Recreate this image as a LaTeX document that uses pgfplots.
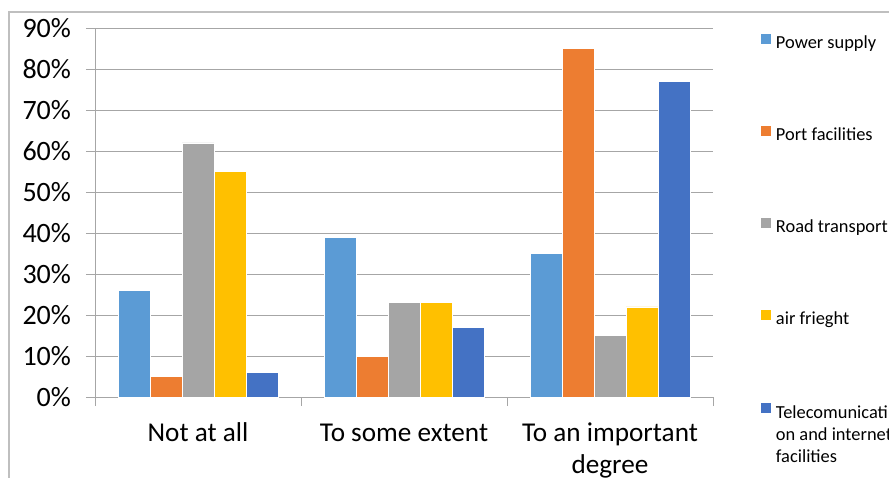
\documentclass[border=0pt]{standalone}
\usepackage{fontspec}
\setmainfont{Carlito}
\usepackage{pgfplots}
\pgfplotsset{compat=1.18}
\definecolor{c1}{HTML}{5B9BD5}
\definecolor{c2}{HTML}{ED7D31}
\definecolor{c3}{HTML}{A5A5A5}
\definecolor{c4}{HTML}{FFC000}
\definecolor{c5}{HTML}{4472C4}
\definecolor{gridc}{HTML}{A6A6A6}
\definecolor{framec}{HTML}{BFBFBF}
\begin{document}
\begin{tikzpicture}[x=1pt,y=1pt]
\clip (0,0) rectangle (444.5,238.5);
\draw[framec, line width=0.6pt] (4.5,-1) -- (4.5,232.5) -- (450,232.5);
\begin{axis}[
  at={(47.5pt,40pt)}, anchor=south west,
  scale only axis, width=309pt, height=184.5pt,
  xmin=0, xmax=3, ymin=0, ymax=90,
  axis lines*=left, axis line style={-, draw=gridc, line width=0.5pt},
  ytick={0,10,...,90},
  yticklabels={0\%,10\%,20\%,30\%,40\%,50\%,60\%,70\%,80\%,90\%},
  yticklabel style={font=\fontsize{14}{16.8}\selectfont, xshift=-4pt},
  ymajorgrids, grid style={gridc, line width=0.5pt},
  xtick={0,1,2,3}, xticklabels={},
  extra x ticks={0.5,1.5,2.5},
  extra x tick labels={\strut Not at all,\strut To some extent,{\strut To an important\\degree}},
  extra x tick style={major tick length=0pt, grid=none,
    tick label style={align=center, font=\fontsize{13.6}{15.6}\selectfont, yshift=-8pt}},
  tick align=outside, major tick length=4.5pt,
  tick style={gridc, line width=0.5pt},
  tick label style={text=black},
  ybar=0pt, bar width=16pt,
  legend style={at={(axis description cs:1.076,0.99)}, anchor=north west,
    draw=none, fill=none, font=\fontsize{9.2}{11}\selectfont,
    row sep=34pt, inner sep=0pt},
  legend cell align=left,
  legend image code/.code={\fill[#1] (0pt,-0.3pt) rectangle (5.5pt,5.2pt);},
]
\addplot[fill=c1, draw=white, line width=0.3pt] coordinates {(0.5,26) (1.5,39) (2.5,35)};
\addlegendentry{Power supply}
\addplot[fill=c2, draw=white, line width=0.3pt] coordinates {(0.5,5) (1.5,10) (2.5,85)};
\addlegendentry{Port facilities}
\addplot[fill=c3, draw=white, line width=0.3pt] coordinates {(0.5,62) (1.5,23) (2.5,15)};
\addlegendentry{Road transport}
\addplot[fill=c4, draw=white, line width=0.3pt] coordinates {(0.5,55) (1.5,23) (2.5,22)};
\addlegendentry{air frieght}
\addplot[fill=c5, draw=white, line width=0.3pt] coordinates {(0.5,6) (1.5,17) (2.5,77)};
\addlegendentry{\begin{tabular}[t]{@{}l@{}}Telecomunicati\\on and internet\\facilities\end{tabular}}
\end{axis}
\end{tikzpicture}
\end{document}
